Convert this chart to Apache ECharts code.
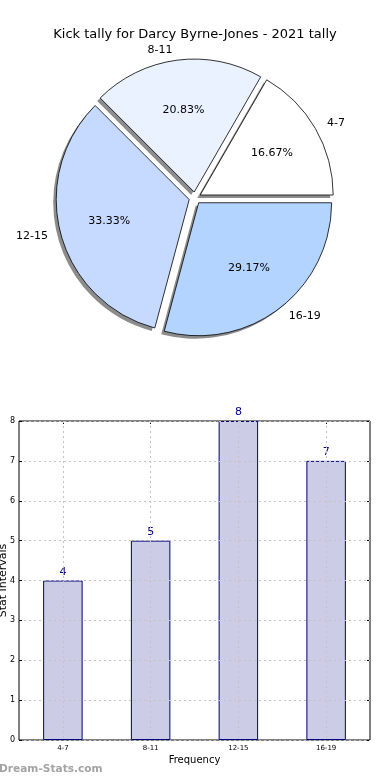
<!DOCTYPE html>
<html>
<head>
<meta charset="utf-8">
<style>
html,body{margin:0;padding:0;background:#fff;}
#c{width:390px;height:780px;}
</style>
<script src="https://cdn.jsdelivr.net/npm/echarts@6/dist/echarts.min.js"></script>
</head>
<body>
<div id="c"></div>
<script>
var categories = ['4-7', '8-11', '12-15', '16-19'];
var values = [4, 5, 8, 7];
var yTicks = [0, 1, 2, 3, 4, 5, 6, 7, 8];
var titleText = 'Kick tally for Darcy Byrne-Jones - 2021 tally';

var sliceColors = ['#ffffff', '#eaf2ff', '#c6d9ff', '#b3d4ff'];
var FONT = 'DejaVu Sans';

var chart = echarts.init(document.getElementById('c'), null, {renderer: 'canvas'});

var pieData = categories.map(function (c, i) {
  return {name: c, value: values[i], selected: true, itemStyle: {color: sliceColors[i]}};
});
var plainData = categories.map(function (c, i) {
  return {name: c, value: values[i], selected: true};
});
// half-step helper axis: vertical grid lines at category centres
var halfSteps = [];
for (var k = 0; k <= categories.length * 2; k++) halfSteps.push(String(k));

var pieBase = {
  type: 'pie',
  startAngle: 0,
  clockwise: false,
  selectedMode: 'multiple',
  selectedOffset: 6,
  avoidLabelOverlap: false,
  emphasis: {disabled: true},
  silent: true
};
function pie(extra) { return Object.assign({}, pieBase, extra); }

var option = {
  animation: false,
  backgroundColor: '#fff',
  title: {
    text: titleText,
    left: 'center',
    top: 23,
    textStyle: {fontFamily: FONT, fontSize: 13, fontWeight: 'normal', color: '#000'}
  },
  graphic: [{
    type: 'text',
    left: -1,
    top: 764,
    style: {text: 'Dream-Stats.com', font: 'bold 10.6px "DejaVu Sans"', fill: '#a3a3a3'}
  }],
  grid: {
    left: 19, right: 20, top: 421, bottom: 40,
    containLabel: false,
    outerBoundsMode: 'none',
    show: true, borderColor: '#000', borderWidth: 1, backgroundColor: 'transparent'
  },
  xAxis: [{
    type: 'category',
    data: categories,
    position: 'bottom',
    boundaryGap: true,
    axisLine: {show: false},
    axisTick: {show: true, inside: true, alignWithLabel: true, length: 3, lineStyle: {color: '#000'}},
    axisLabel: {fontFamily: FONT, fontSize: 7, color: '#000', margin: 5},
    splitLine: {show: false},
    name: 'Frequency',
    nameLocation: 'middle',
    nameGap: 15,
    nameMoveOverlap: false,
    nameTextStyle: {fontFamily: FONT, fontSize: 10, color: '#000'}
  }, {
    type: 'category',
    data: halfSteps,
    boundaryGap: false,
    position: 'bottom',
    z: 5,
    axisLine: {show: false},
    axisTick: {show: false},
    axisLabel: {show: false},
    splitLine: {
      show: true,
      interval: function (idx) { return idx % 2 === 1; },
      lineStyle: {color: '#c4c4c4', type: [2, 3], width: 1}
    }
  }, {
    type: 'category',
    data: categories,
    position: 'top',
    boundaryGap: true,
    axisLine: {show: false},
    axisTick: {show: true, inside: true, alignWithLabel: true, length: 3, lineStyle: {color: '#000'}},
    axisLabel: {show: false},
    splitLine: {show: false}
  }],
  yAxis: [{
    type: 'value',
    min: 0, max: 8, interval: 1,
    position: 'left',
    z: 5,
    axisLine: {show: false},
    axisTick: {show: true, inside: true, length: 3, lineStyle: {color: '#000'}},
    axisLabel: {
      fontFamily: FONT, fontSize: 8, color: '#000', margin: 4,
      formatter: function (v) { return yTicks.indexOf(v) >= 0 ? String(v) : ''; }
    },
    splitLine: {show: true, lineStyle: {color: '#c4c4c4', type: [2, 3], width: 1}},
    name: 'Stat Intervals',
    nameLocation: 'middle',
    nameRotate: 90,
    nameGap: 10,
    nameMoveOverlap: false,
    nameTextStyle: {fontFamily: FONT, fontSize: 11, color: '#000'}
  }, {
    type: 'value',
    min: 0, max: 8, interval: 1,
    position: 'right',
    axisLine: {show: false},
    axisTick: {show: true, inside: true, length: 3, lineStyle: {color: '#000'}},
    axisLabel: {show: false},
    splitLine: {show: false}
  }],
  series: [
    // drop shadow beneath the wedges
    pie({
      center: [192, 201],
      radius: 133,
      itemStyle: {color: 'rgba(0,0,0,0.45)', borderWidth: 0},
      label: {show: false},
      labelLine: {show: false},
      data: plainData
    }),
    // wedges + outer category labels
    pie({
      center: [195, 198],
      radius: 133,
      itemStyle: {borderColor: '#000', borderWidth: 0.8},
      label: {
        show: true, position: 'outside', formatter: '{b}',
        fontFamily: FONT, fontSize: 11, color: '#000', distanceToLabelLine: 3
      },
      labelLine: {show: false, length: 10, length2: 0},
      data: pieData
    }),
    // percentage labels at 0.6 r (inside label of a 1.2 r transparent pie)
    pie({
      center: [195, 198],
      radius: 133 * 1.2,
      itemStyle: {color: 'rgba(0,0,0,0)', borderWidth: 0},
      label: {
        show: true, position: 'inside', formatter: '{d}%',
        fontFamily: FONT, fontSize: 11, color: '#000'
      },
      labelLine: {show: false},
      data: plainData
    }),
    {
      type: 'bar',
      xAxisIndex: 0,
      yAxisIndex: 0,
      data: values,
      barWidth: '45%',
      z: 2,
      itemStyle: {color: '#cccce6', borderColor: '#000080', borderWidth: 1},
      label: {
        show: true, position: 'top', distance: 3,
        fontFamily: FONT, fontSize: 11, color: '#000080'
      },
      emphasis: {disabled: true},
      silent: true
    }
  ]
};
chart.setOption(option);
</script>
</body>
</html>
